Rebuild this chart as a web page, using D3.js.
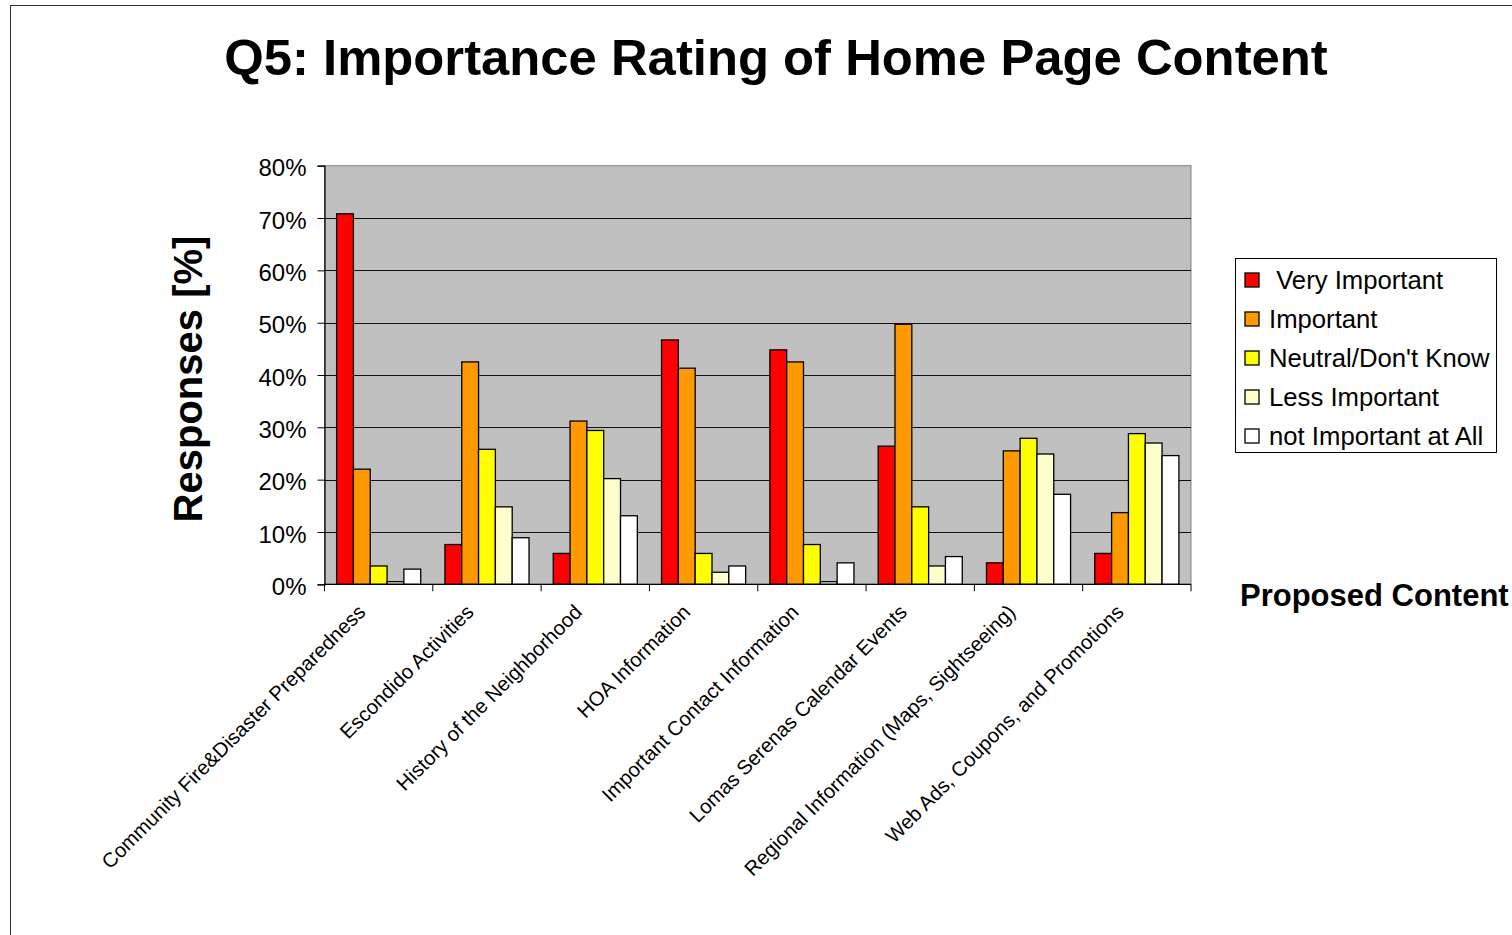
<!DOCTYPE html>
<html>
<head>
<meta charset="utf-8">
<script src="https://cdn.jsdelivr.net/npm/d3@7"></script>
<style>
  html, body { margin: 0; padding: 0; background: #fff; }
  svg { display: block; font-family: "Liberation Sans", Arial, sans-serif; }
</style>
</head>
<body>
<svg id="chart" width="1512" height="935"></svg>
<script>
// Survey question categories (x axis)
const categories = [
  "Community Fire&Disaster Preparedness",
  "Escondido Activities",
  "History of the Neighborhood",
  "HOA Information",
  "Important Contact Information",
  "Lomas Serenas Calendar Events",
  "Regional Information (Maps, Sightseeing)",
  "Web Ads, Coupons, and Promotions"
];

// Response shares (%) per rating, one value per category
const veryImportant    = [70.8, 7.6, 5.9, 46.7, 44.8, 26.4, 4.1, 5.9];
const important        = [22.0, 42.5, 31.2, 41.3, 42.5, 49.7, 25.5, 13.7];
const neutral          = [3.5, 25.8, 29.4, 5.9, 7.6, 14.8, 27.9, 28.8];
const lessImportant    = [0.5, 14.8, 20.2, 2.3, 0.5, 3.5, 24.9, 27.0];
const notImportant     = [2.9, 8.9, 13.1, 3.5, 4.1, 5.3, 17.2, 24.6];

const seriesNames = [" Very Important", "Important", "Neutral/Don't Know", "Less Important", "not Important at All"];
const seriesColors = ["#ff0000", "#ff9900", "#ffff00", "#ffffcc", "#ffffff"];
const seriesValues = [veryImportant, important, neutral, lessImportant, notImportant];

const yTicks = [0, 10, 20, 30, 40, 50, 60, 70, 80];

const svg = d3.select("#chart");

// outer frame (runs past the right and bottom edges)
svg.append("rect")
  .attr("x", 10.5).attr("y", 5.5)
  .attr("width", 1700).attr("height", 1200)
  .attr("fill", "none").attr("stroke", "#333").attr("stroke-width", 1);

const plot = { left: 324.5, right: 1191, top: 165.7, bottom: 584.3 };

const x0 = d3.scaleBand().domain(categories).range([plot.left, plot.right]).paddingInner(0).paddingOuter(0);
const x1 = d3.scaleBand().domain(d3.range(seriesNames.length)).range([0, x0.bandwidth()]).paddingInner(0).paddingOuter(0.72);
const y = d3.scaleLinear().domain([0, 80]).range([plot.bottom, plot.top]);

// plot background
svg.append("rect")
  .attr("x", plot.left).attr("y", plot.top)
  .attr("width", plot.right - plot.left).attr("height", plot.bottom - plot.top)
  .attr("fill", "#c0c0c0").attr("stroke", "#808080").attr("stroke-width", 1);

// gridlines
svg.append("g").selectAll("line")
  .data(yTicks.filter(t => t > 0 && t < 80))
  .join("line")
  .attr("x1", plot.left).attr("x2", plot.right)
  .attr("y1", d => Math.round(y(d)) + 0.5).attr("y2", d => Math.round(y(d)) + 0.5)
  .attr("stroke", "#111").attr("stroke-width", 1);

// bars
const rows = categories.map((c, i) => ({ cat: c, vals: seriesValues.map(s => s[i]) }));
const groups = svg.append("g").selectAll("g")
  .data(rows)
  .join("g")
  .attr("transform", d => `translate(${x0(d.cat)},0)`);

groups.selectAll("rect")
  .data(d => d.vals.map((v, k) => ({ v, k })))
  .join("rect")
  .attr("x", d => x1(d.k))
  .attr("width", x1.bandwidth())
  .attr("y", d => y(d.v))
  .attr("height", d => y(0) - y(d.v))
  .attr("fill", d => seriesColors[d.k])
  .attr("stroke", "#000").attr("stroke-width", 1.3);

// y axis
const yAxis = d3.axisLeft(y).tickValues(yTicks).tickFormat(d => d + "%").tickSize(7).tickPadding(11);
const gy = svg.append("g").attr("transform", `translate(${plot.left},0)`).call(yAxis);
gy.select(".domain").attr("stroke", "#000").attr("stroke-width", 1.2);
gy.selectAll(".tick line").attr("stroke", "#000");
gy.selectAll(".tick text")
  .attr("font-size", 24).attr("fill", "#000")
  .attr("font-family", "Liberation Sans, Arial, sans-serif")
  .attr("dy", "0.42em");

// x axis (ticks at category boundaries)
const xAxisG = svg.append("g");
xAxisG.append("line")
  .attr("x1", plot.left).attr("x2", plot.right)
  .attr("y1", plot.bottom).attr("y2", plot.bottom)
  .attr("stroke", "#000").attr("stroke-width", 1.2);
const boundaries = categories.map(c => x0(c)).concat([plot.right]);
xAxisG.selectAll("line.tk")
  .data(boundaries)
  .join("line").attr("class", "tk")
  .attr("x1", d => d).attr("x2", d => d)
  .attr("y1", plot.bottom).attr("y2", plot.bottom + 7)
  .attr("stroke", "#000").attr("stroke-width", 1);

// rotated category labels
svg.append("g").selectAll("text")
  .data(categories)
  .join("text")
  .attr("transform", d => `translate(${x0(d) + x0.bandwidth() / 2 - 12},${plot.bottom + 29}) rotate(-45)`)
  .attr("text-anchor", "end")
  .attr("font-size", 20.3)
  .attr("fill", "#000")
  .text(d => d);

// title
svg.append("text")
  .attr("x", 776).attr("y", 75)
  .attr("text-anchor", "middle")
  .attr("font-size", 50.8).attr("font-weight", "bold")
  .text("Q5: Importance Rating of Home Page Content");

// y axis title
svg.append("text")
  .attr("transform", "translate(202,379) rotate(-90)")
  .attr("text-anchor", "middle")
  .attr("font-size", 40).attr("font-weight", "bold")
  .text("Responses [%]");

// x axis title
svg.append("text")
  .attr("x", 1240).attr("y", 606)
  .attr("font-size", 31).attr("font-weight", "bold")
  .text("Proposed Content");

// legend
const legend = svg.append("g");
legend.append("rect")
  .attr("x", 1235.5).attr("y", 258.5).attr("width", 261).attr("height", 194)
  .attr("fill", "#fff").attr("stroke", "#000").attr("stroke-width", 1);
const items = legend.selectAll("g.item")
  .data(seriesNames)
  .join("g").attr("class", "item")
  .attr("transform", (d, i) => `translate(0,${280 + i * 39})`);
items.append("rect")
  .attr("x", 1245).attr("y", -7).attr("width", 14).attr("height", 14)
  .attr("fill", (d, i) => seriesColors[i]).attr("stroke", "#000").attr("stroke-width", 1.3);
items.append("text")
  .attr("x", 1269).attr("y", 9)
  .attr("font-size", 25.7).attr("fill", "#000")
  .attr("xml:space", "preserve")
  .style("white-space", "pre")
  .text(d => d);
</script>
</body>
</html>
